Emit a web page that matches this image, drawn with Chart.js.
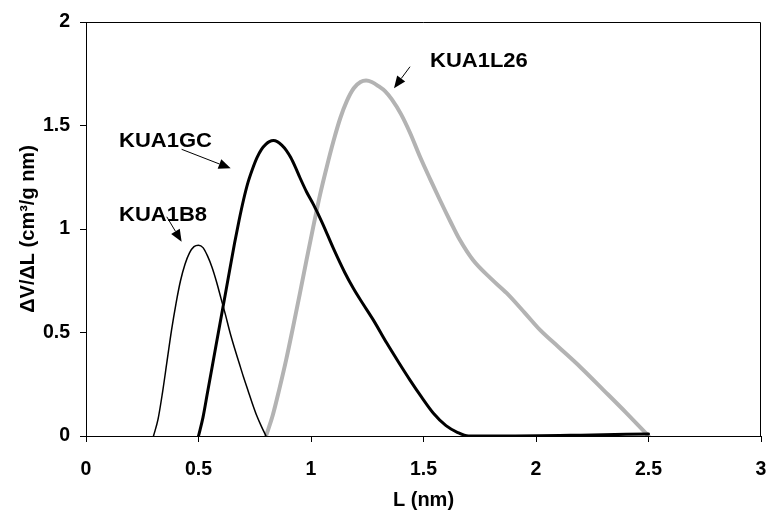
<!DOCTYPE html>
<html>
<head>
<meta charset="utf-8">
<script src="https://cdn.jsdelivr.net/npm/chart.js@4.4.1/dist/chart.umd.min.js"></script>
<style>
  html, body { margin: 0; padding: 0; background: #ffffff; }
  #wrap { width: 766px; height: 515px; }
</style>
</head>
<body>
<div id="wrap"><canvas id="c" width="766" height="515"></canvas></div>
<script>
// ---- data ----
const xTicks = [0, 0.5, 1, 1.5, 2, 2.5, 3];
const yTicks = [0, 0.5, 1, 1.5, 2];

const b8L = [0.30, 0.32, 0.34, 0.36, 0.38, 0.40, 0.42, 0.44, 0.46, 0.48, 0.50, 0.52, 0.54, 0.56, 0.58, 0.60, 0.62, 0.64, 0.66, 0.68, 0.70, 0.72, 0.74, 0.76, 0.78, 0.80];
const b8V = [0, 0.08, 0.21, 0.36, 0.51, 0.64, 0.75, 0.83, 0.885, 0.915, 0.922, 0.91, 0.87, 0.815, 0.745, 0.665, 0.585, 0.50, 0.425, 0.355, 0.285, 0.22, 0.155, 0.095, 0.045, 0];

const gcL = [0.50, 0.52, 0.54, 0.56, 0.58, 0.60, 0.62, 0.64, 0.66, 0.68, 0.70, 0.72, 0.74, 0.76, 0.78, 0.80, 0.815, 0.833, 0.85, 0.87, 0.89, 0.91, 0.93, 0.95, 0.98, 1.01, 1.05, 1.10, 1.15, 1.19, 1.23, 1.28, 1.336, 1.39, 1.44, 1.49, 1.544, 1.60, 1.65, 1.70, 1.85, 2.2, 2.5];
const gcV = [0, 0.09, 0.21, 0.33, 0.45, 0.57, 0.69, 0.81, 0.93, 1.04, 1.14, 1.225, 1.29, 1.345, 1.385, 1.41, 1.422, 1.427, 1.422, 1.405, 1.38, 1.345, 1.30, 1.25, 1.18, 1.12, 1.03, 0.905, 0.79, 0.71, 0.64, 0.555, 0.45, 0.355, 0.27, 0.19, 0.11, 0.05, 0.018, 0, 0, 0.004, 0.01];

const l26L = [0.80, 0.83, 0.86, 0.89, 0.92, 0.95, 0.98, 1.01, 1.04, 1.07, 1.10, 1.13, 1.16, 1.19, 1.22, 1.245, 1.27, 1.30, 1.33, 1.36, 1.40, 1.44, 1.484, 1.53, 1.573, 1.62, 1.66, 1.72, 1.80, 1.87, 1.95, 2.02, 2.10, 2.20, 2.30, 2.40, 2.50];
const l26V = [0, 0.10, 0.23, 0.37, 0.525, 0.685, 0.85, 1.01, 1.165, 1.30, 1.425, 1.535, 1.62, 1.68, 1.71, 1.717, 1.71, 1.69, 1.665, 1.625, 1.555, 1.465, 1.35, 1.24, 1.14, 1.035, 0.95, 0.85, 0.76, 0.69, 0.595, 0.51, 0.43, 0.33, 0.222, 0.113, 0];

// labels and arrows (data units)
const labels = [
  { text: 'KUA1GC', x: 0.147, y: 1.394, from: [0.425, 1.385], to: [0.643, 1.293] },
  { text: 'KUA1B8', x: 0.147, y: 1.039, from: [0.359, 1.059], to: [0.425, 0.939] },
  { text: 'KUA1L26', x: 1.529, y: 1.784, from: [1.44, 1.784], to: [1.369, 1.68] }
];

const pts = (xs, ys) => xs.map((x, i) => ({ x: x, y: ys[i] }));
const FONT = "'Liberation Sans', Arial, Helvetica, sans-serif";

const annot = {
  id: 'annot',
  afterDraw(chart) {
    const { ctx, chartArea: a, scales: { x, y } } = chart;
    ctx.save();
    ctx.strokeStyle = '#000';
    ctx.lineWidth = 1;
    ctx.beginPath();
    ctx.moveTo(a.left, a.top + 0.5);
    ctx.lineTo(a.right - 0.5, a.top + 0.5);
    ctx.lineTo(a.right - 0.5, a.bottom);
    ctx.stroke();
    labels.forEach(l => {
      const px = x.getPixelForValue(l.x), py = y.getPixelForValue(l.y);
      ctx.save();
      ctx.translate(px, py);
      ctx.scale(1.1, 1);
      ctx.font = 'bold 20px ' + FONT;
      ctx.fillStyle = '#000';
      ctx.textAlign = 'left';
      ctx.textBaseline = 'alphabetic';
      ctx.fillText(l.text, 0, 0);
      ctx.restore();
      const x1 = x.getPixelForValue(l.from[0]), y1 = y.getPixelForValue(l.from[1]);
      const x2 = x.getPixelForValue(l.to[0]), y2 = y.getPixelForValue(l.to[1]);
      const ang = Math.atan2(y2 - y1, x2 - x1);
      const hl = 12, hw = 5;
      const bx = x2 - hl * Math.cos(ang), by = y2 - hl * Math.sin(ang);
      ctx.beginPath();
      ctx.moveTo(x1, y1);
      ctx.lineTo(bx, by);
      ctx.lineWidth = 1;
      ctx.stroke();
      ctx.beginPath();
      ctx.moveTo(x2, y2);
      ctx.lineTo(bx + hw * Math.sin(ang), by - hw * Math.cos(ang));
      ctx.lineTo(bx - hw * Math.sin(ang), by + hw * Math.cos(ang));
      ctx.closePath();
      ctx.fillStyle = '#000';
      ctx.fill();
    });
    ctx.restore();
  }
};

new Chart(document.getElementById('c'), {
  type: 'line',
  data: {
    datasets: [
      { label: 'KUA1B8', data: pts(b8L, b8V), borderColor: '#000000', borderWidth: 1.5 },
      { label: 'KUA1GC', data: pts(gcL, gcV), borderColor: '#000000', borderWidth: 3 },
      { label: 'KUA1L26', data: pts(l26L, l26V), borderColor: '#b3b3b3', borderWidth: 4 }
    ]
  },
  options: {
    responsive: false,
    animation: false,
    elements: {
      point: { radius: 0 },
      line: { cubicInterpolationMode: 'monotone', fill: false, borderCapStyle: 'round', borderJoinStyle: 'round' }
    },
    layout: { padding: { top: 22, right: 5, left: 0, bottom: 0 } },
    plugins: { legend: { display: false }, tooltip: { enabled: false }, title: { display: false } },
    scales: {
      x: {
        type: 'linear', min: 0, max: 3,
        afterFit(s) { s.height = 79; s.paddingRight = 0; s.paddingLeft = 0; },
        afterBuildTicks(s) { s.ticks = xTicks.map(v => ({ value: v })); },
        grid: { display: true, drawOnChartArea: false, drawTicks: true, tickLength: 6, tickColor: '#000', tickWidth: 1 },
        border: { display: true, color: '#000', width: 1 },
        ticks: { color: '#000', font: { family: FONT, size: 19.5, weight: 'bold' }, padding: 16, maxRotation: 0, autoSkip: false, callback: v => String(v) },
        title: { display: true, text: 'L (nm)', color: '#000', font: { family: FONT, size: 20, weight: 'bold' }, padding: { top: 0, bottom: 3 } }
      },
      y: {
        type: 'linear', min: 0, max: 2,
        afterFit(s) { s.width = 86; },
        afterBuildTicks(s) { s.ticks = yTicks.map(v => ({ value: v })); },
        grid: { display: true, drawOnChartArea: false, drawTicks: true, tickLength: 6, tickColor: '#000', tickWidth: 1 },
        border: { display: true, color: '#000', width: 1 },
        ticks: { color: '#000', font: { family: FONT, size: 19.5, weight: 'bold' }, padding: 10, autoSkip: false, callback: v => String(v) },
        title: { display: true, text: 'ΔV/ΔL (cm³/g nm)', color: '#000', font: { family: FONT, size: 20, weight: 'bold' }, padding: { top: 16, bottom: 0 } }
      }
    }
  },
  plugins: [annot]
});
</script>
</body>
</html>
